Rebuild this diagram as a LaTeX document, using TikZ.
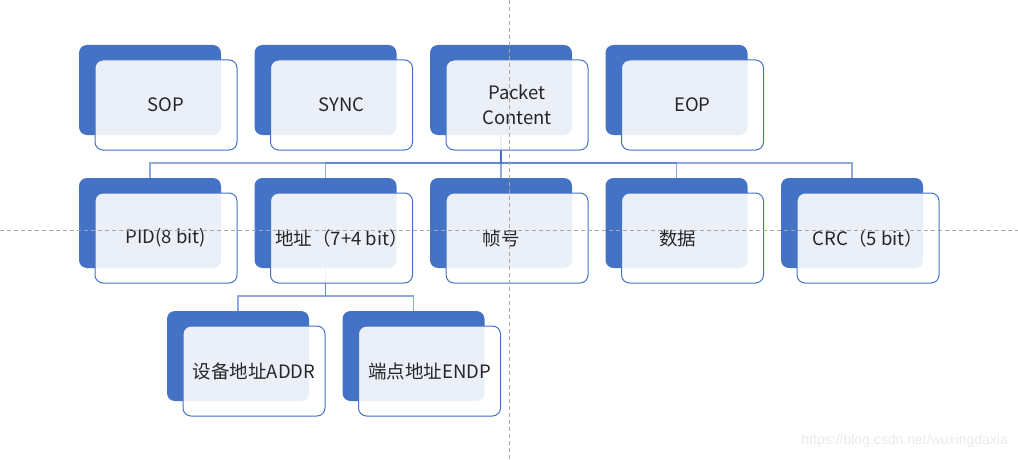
\documentclass[tikz,border=0pt]{standalone}
\usepackage{fontspec}
\setmainfont{Liberation Sans}
\newfontfamily\cjk{Noto Sans CJK SC}
\definecolor{myblue}{HTML}{4472C4}
\definecolor{guide}{HTML}{A6A6A6}
\definecolor{wm}{HTML}{EAEAEA}
\tikzset{
  backbox/.style={fill=myblue, rounded corners=8pt, minimum width=142pt, minimum height=90pt, inner sep=0pt, outer sep=0pt},
  frontbox/.style={draw=myblue, line width=1pt, fill=white, fill opacity=0.89, text opacity=1, rounded corners=8pt,
     minimum width=142pt, minimum height=90pt, inner sep=0pt, outer sep=0pt, align=center,
     font=\cjk\fontsize{18.5pt}{25.5pt}\selectfont, text=black!85},
  conn/.style={draw=myblue, line width=1.3pt, draw opacity=0.6},
  guideline/.style={draw=guide, line width=0.9pt, dash pattern=on 4pt off 3pt},
}
\begin{document}
\begin{tikzpicture}[x=1pt,y=-1pt]
\useasboundingbox (0,0) rectangle (1018,460);
% back boxes
\node[backbox] (sopB) at (150,90) {};
\node[backbox] (syncB) at (325.5,90) {};
\node[backbox] (pcB) at (501,90) {};
\node[backbox] (eopB) at (676.5,90) {};
\node[backbox] (pidB) at (150,223) {};
\node[backbox] (addrB) at (325.5,223) {};
\node[backbox] (fnB) at (501,223) {};
\node[backbox] (dataB) at (676.5,223) {};
\node[backbox] (crcB) at (852,223) {};
\node[backbox] (devB) at (238,356) {};
\node[backbox] (endB) at (413.5,356) {};
% connectors
\foreach \c in {pidB,addrB,fnB,dataB,crcB}{
  \draw[conn] (pcB.south) -- ([yshift=-28pt]pcB.south) -| (\c.north);
}
\foreach \c in {devB,endB}{
  \draw[conn] (addrB.south) -- ([yshift=-28pt]addrB.south) -| (\c.north);
}
% front boxes
\node[frontbox] (sopF) at (166,105) {SOP};
\node[frontbox] (syncF) at (341.5,105) {SYNC};
\node[frontbox] (pcF) at (517,105) {Packet\\Content};
\node[frontbox] (eopF) at (692.5,105) {EOP};
\node[frontbox] (pidF) at (166,238) {PID(8 bit)};
\node[frontbox] (addrF) at (341.5,238) {地址（7+4 bit）};
\node[frontbox] (fnF) at (517,238) {帧号\hspace*{32pt}};
\node[frontbox] (dataF) at (692.5,238) {数据\hspace*{30pt}};
\node[frontbox] (crcF) at (868,238) {CRC（5 bit）};
\node[frontbox] (devF) at (254,371) {设备地址ADDR};
\node[frontbox] (endF) at (429.5,371) {端点地址ENDP};
% guides
\coordinate (gT) at (509,0);
\coordinate (gB) at (509,460);
\coordinate (gL) at (0,230);
\coordinate (gR) at (1018,230);
\draw[guideline] (gT) -- (gB);
\draw[guideline] (gL) -- (gR);
% watermark
\node[text=wm, font=\fontsize{14pt}{16pt}\selectfont, anchor=east, inner sep=0pt] (wmark) at (1008,441) {https://blog.csdn.net/wuxingdaxia};
\end{tikzpicture}
\end{document}
